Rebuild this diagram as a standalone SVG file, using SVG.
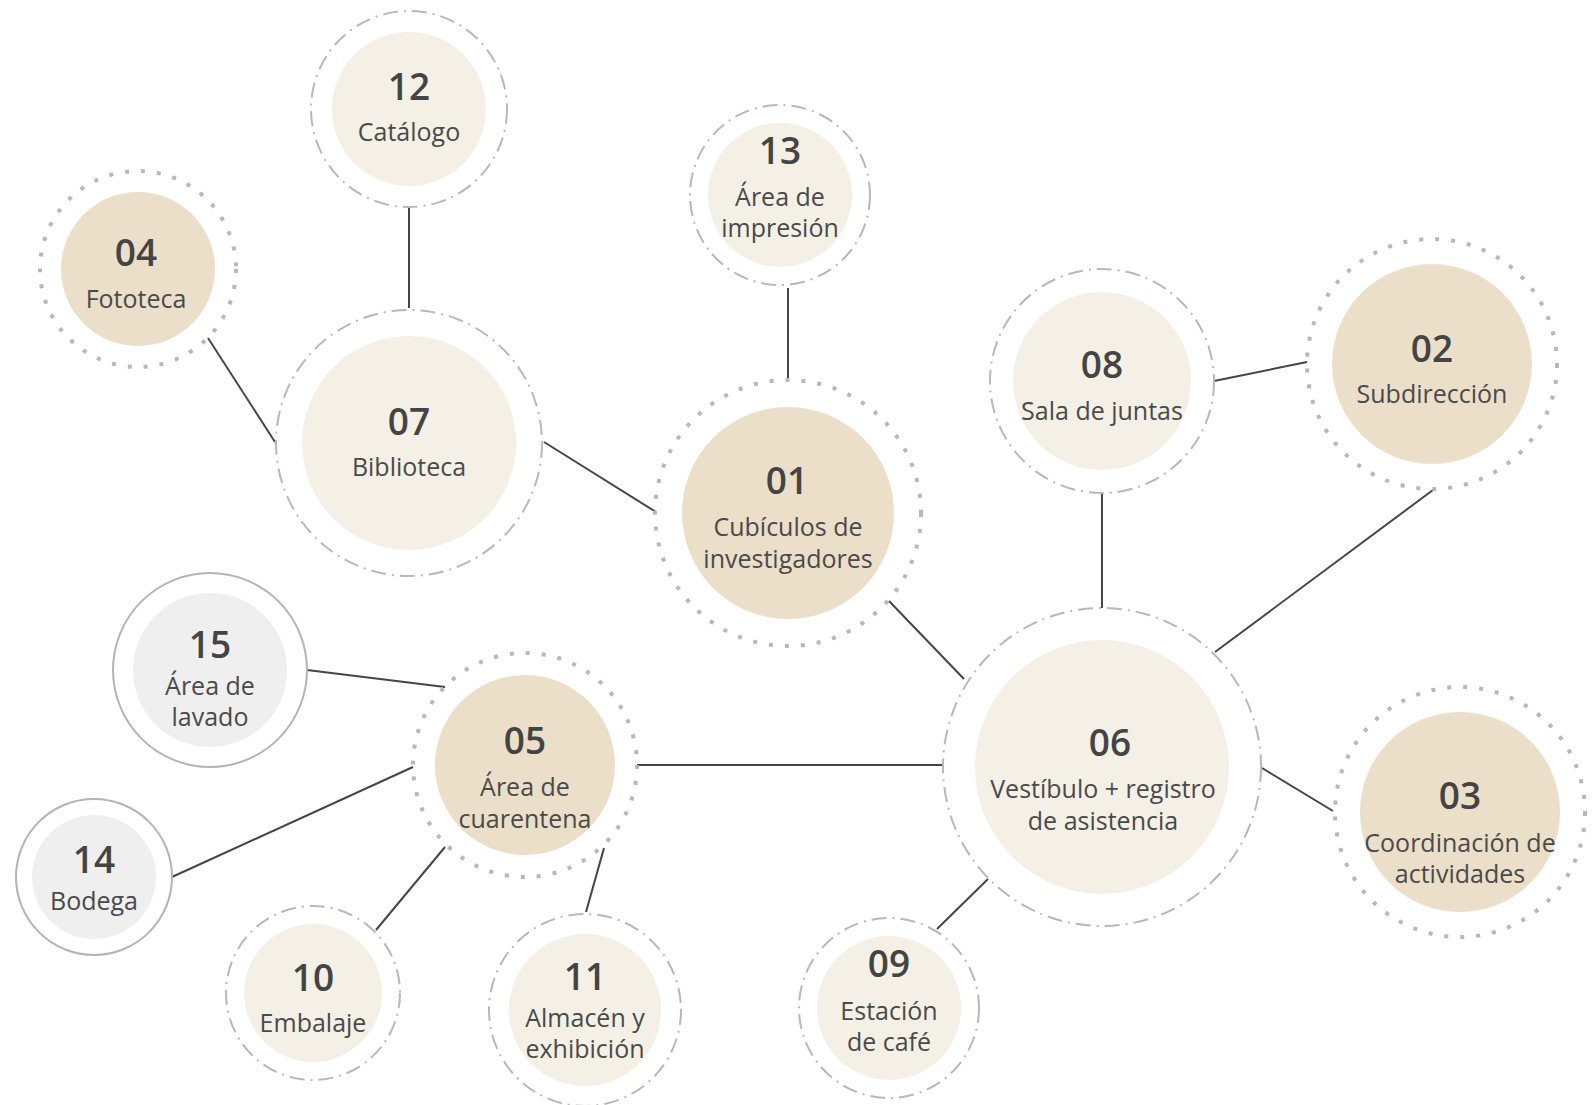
<svg xmlns="http://www.w3.org/2000/svg" width="1596" height="1105" viewBox="0 0 1596 1105">
<style>
.bg{fill:#ffffff}
.ring-dd{fill:none;stroke:#b8b8b8;stroke-width:2;stroke-dasharray:15 6 2 6}
.ring-dot{fill:none;stroke:#b8b8b8;stroke-width:4;stroke-dasharray:4 12}
.ring-solid{fill:none;stroke:#b4b4b4;stroke-width:2}
.cream{fill:#f4f0e6}
.tan{fill:#ebdfc9}
.gray{fill:#efefef}
.num{font-family:"Open Sans","Noto Sans","Liberation Sans",sans-serif;font-size:37px;font-weight:600;fill:#444444;text-anchor:middle}
.lbl{font-family:"Open Sans","Noto Sans","Liberation Sans",sans-serif;font-size:25px;font-weight:400;fill:#4a4a4a;text-anchor:middle}
.edge{stroke:#454545;stroke-width:2;fill:none}
</style>
<rect class="bg" x="0" y="0" width="1596" height="1105"/>
<g id="connectors">
<line class="edge" x1="409" y1="206" x2="409" y2="308"/>
<line class="edge" x1="208" y1="338" x2="275" y2="442"/>
<line class="edge" x1="544" y1="442" x2="656" y2="512"/>
<line class="edge" x1="788" y1="288" x2="788" y2="381"/>
<line class="edge" x1="889" y1="601" x2="964" y2="679"/>
<line class="edge" x1="1102" y1="493" x2="1102" y2="608"/>
<line class="edge" x1="1214" y1="381" x2="1307" y2="362"/>
<line class="edge" x1="1433" y1="490" x2="1215" y2="652"/>
<line class="edge" x1="1262" y1="768" x2="1333" y2="811"/>
<line class="edge" x1="988" y1="879" x2="937" y2="929"/>
<line class="edge" x1="637" y1="765" x2="943" y2="765"/>
<line class="edge" x1="307" y1="670" x2="445" y2="687"/>
<line class="edge" x1="172" y1="877" x2="413" y2="767"/>
<line class="edge" x1="376" y1="930" x2="445" y2="847"/>
<line class="edge" x1="586" y1="912" x2="604" y2="848"/>
</g>
<g id="node-12">
<circle class="ring-dd" cx="409" cy="109" r="98"/>
<circle class="cream" cx="409" cy="109" r="77"/>
<text class="num" x="409" y="99.5">12</text>
<text class="lbl" x="409" y="141">Catálogo</text>
</g>
<g id="node-04">
<circle class="ring-dot" cx="138" cy="269" r="98"/>
<circle class="tan" cx="138" cy="269" r="77"/>
<text class="num" x="136" y="265.5">04</text>
<text class="lbl" x="136" y="308">Fototeca</text>
</g>
<g id="node-07">
<circle class="ring-dd" cx="409" cy="443" r="133"/>
<circle class="cream" cx="409" cy="443" r="107"/>
<text class="num" x="409" y="434.5">07</text>
<text class="lbl" x="409" y="476">Biblioteca</text>
</g>
<g id="node-13">
<circle class="ring-dd" cx="780" cy="195" r="90"/>
<circle class="cream" cx="780" cy="195" r="72"/>
<text class="num" x="780" y="163.5">13</text>
<text class="lbl" x="780" y="205.5">Área de</text>
<text class="lbl" x="780" y="237">impresión</text>
</g>
<g id="node-01">
<circle class="ring-dot" cx="788" cy="513" r="133"/>
<circle class="tan" cx="788" cy="513" r="106"/>
<text class="num" x="787" y="493.5">01</text>
<text class="lbl" x="788" y="536">Cubículos de</text>
<text class="lbl" x="788" y="568">investigadores</text>
</g>
<g id="node-08">
<circle class="ring-dd" cx="1102" cy="381" r="112"/>
<circle class="cream" cx="1102" cy="381" r="89"/>
<text class="num" x="1102" y="377.5">08</text>
<text class="lbl" x="1102" y="420">Sala de juntas</text>
</g>
<g id="node-02">
<circle class="ring-dot" cx="1432" cy="364" r="125"/>
<circle class="tan" cx="1432" cy="364" r="100"/>
<text class="num" x="1432" y="362">02</text>
<text class="lbl" x="1432" y="403">Subdirección</text>
</g>
<g id="node-06">
<circle class="ring-dd" cx="1102" cy="767" r="159"/>
<circle class="cream" cx="1102" cy="767" r="127"/>
<text class="num" x="1110" y="756">06</text>
<text class="lbl" x="1103" y="798">Vestíbulo + registro</text>
<text class="lbl" x="1103" y="830">de asistencia</text>
</g>
<g id="node-03">
<circle class="ring-dot" cx="1460" cy="812" r="125"/>
<circle class="tan" cx="1460" cy="812" r="100"/>
<text class="num" x="1460" y="809">03</text>
<text class="lbl" x="1460" y="852">Coordinación de</text>
<text class="lbl" x="1460" y="883">actividades</text>
</g>
<g id="node-09">
<circle class="ring-dd" cx="889" cy="1008" r="90"/>
<circle class="cream" cx="889" cy="1008" r="72"/>
<text class="num" x="889" y="977">09</text>
<text class="lbl" x="889" y="1020">Estación</text>
<text class="lbl" x="889" y="1051">de café</text>
</g>
<g id="node-15">
<circle class="ring-solid" cx="210" cy="670" r="97"/>
<circle class="gray" cx="210" cy="670" r="77"/>
<text class="num" x="210" y="658">15</text>
<text class="lbl" x="210" y="695">Área de</text>
<text class="lbl" x="210" y="726">lavado</text>
</g>
<g id="node-05">
<circle class="ring-dot" cx="525" cy="765" r="112"/>
<circle class="tan" cx="525" cy="765" r="90"/>
<text class="num" x="525" y="754">05</text>
<text class="lbl" x="525" y="796">Área de</text>
<text class="lbl" x="525" y="828">cuarentena</text>
</g>
<g id="node-14">
<circle class="ring-solid" cx="94" cy="877" r="78"/>
<circle class="gray" cx="94" cy="877" r="62"/>
<text class="num" x="94" y="873">14</text>
<text class="lbl" x="94" y="910">Bodega</text>
</g>
<g id="node-10">
<circle class="ring-dd" cx="313" cy="993" r="87"/>
<circle class="cream" cx="313" cy="993" r="69"/>
<text class="num" x="313" y="991">10</text>
<text class="lbl" x="313" y="1032">Embalaje</text>
</g>
<g id="node-11">
<circle class="ring-dd" cx="585" cy="1010" r="96"/>
<circle class="cream" cx="585" cy="1010" r="76"/>
<text class="num" x="585" y="990">11</text>
<text class="lbl" x="585" y="1027">Almacén y</text>
<text class="lbl" x="585" y="1058">exhibición</text>
</g>
</svg>
